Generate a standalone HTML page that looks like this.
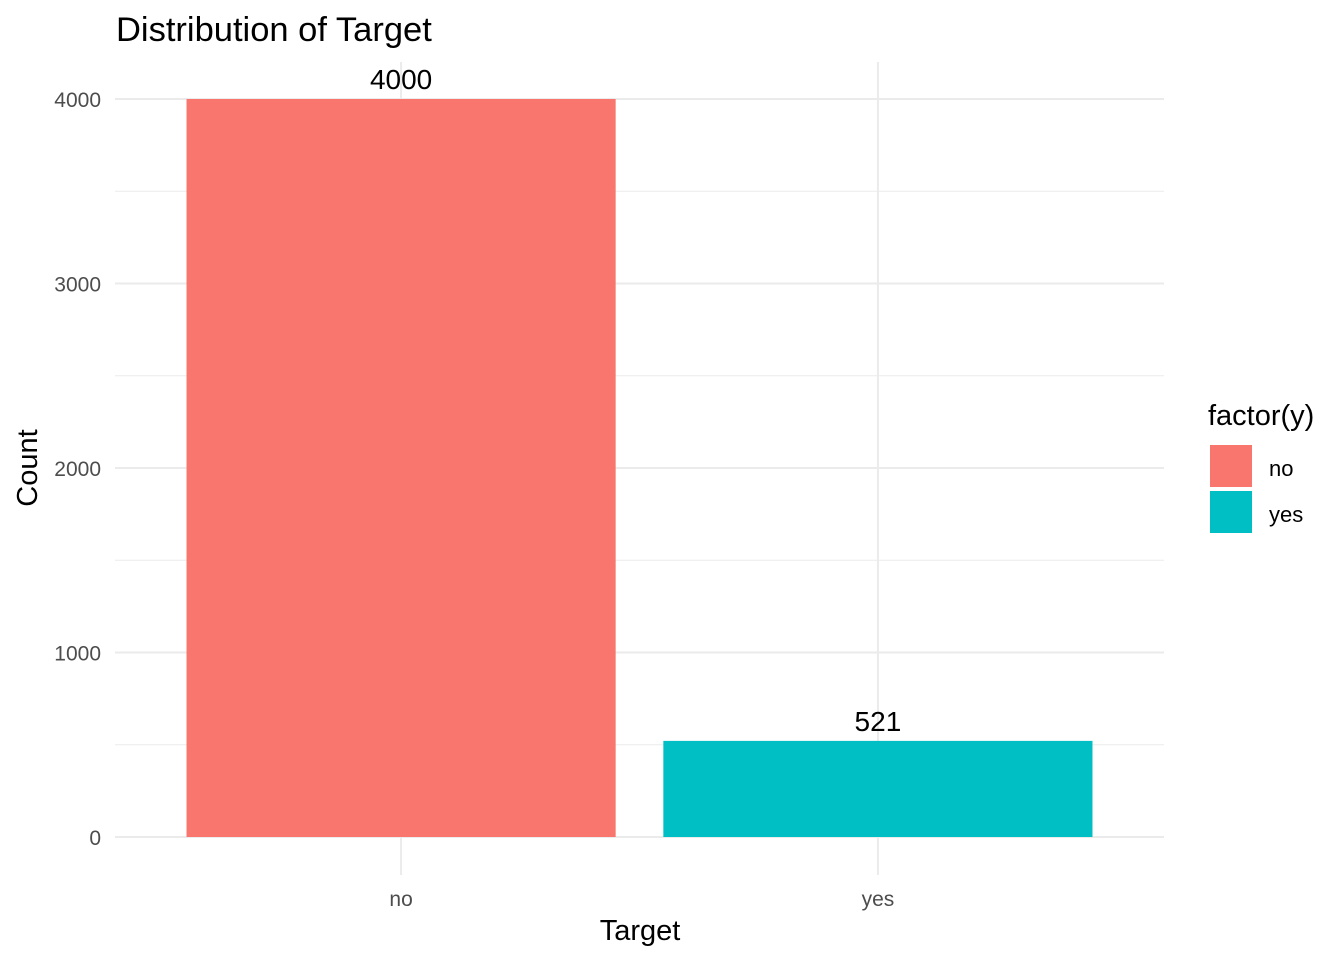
<!DOCTYPE html>
<html><head><meta charset="utf-8"><style>
body{margin:0;background:#fff;}
svg{display:block;font-family:"Liberation Sans",Arial,sans-serif;}
</style></head><body>
<svg id="chart" width="1344" height="960" viewBox="0 0 1344 960">
<text x="116" y="41" font-size="34.5" fill="#000">Distribution of Target</text>
<g id="grid"></g>
<g id="bars"></g>
<g id="labels"></g>
<text x="640" y="940" font-size="29" text-anchor="middle" fill="#000">Target</text>
<text transform="translate(37,468) rotate(-90)" font-size="29" text-anchor="middle" fill="#000">Count</text>
<g>
<text x="1208" y="425" font-size="29" fill="#000">factor(y)</text>
<rect x="1210" y="445" width="42" height="42" fill="#F8766D"/>
<text x="1269" y="476" font-size="22" fill="#000">no</text>
<rect x="1210" y="491" width="42" height="42" fill="#00BFC4"/>
<text x="1269" y="522" font-size="22" fill="#000">yes</text>
</g>
</svg>
<script>
const categories = ["no", "yes"];
const counts = [4000, 521];
const colors = ["#F8766D", "#00BFC4"];
const yTicks = [0, 1000, 2000, 3000, 4000];
const NS = "http://www.w3.org/2000/svg";
const plotLeft = 115, plotRight = 1164, plotTop = 62, plotBottom = 875;
const y0 = 837, yPer = (837 - 99) / 4000;
function yScale(v){ return y0 - v * yPer; }
const step = (plotRight - plotLeft) / (categories.length - 1 + 1.2);
function xScale(i){ return plotLeft + step * (0.6 + i); }
function mk(tag, attrs, parent){ const e = document.createElementNS(NS, tag); for (const k in attrs) e.setAttribute(k, attrs[k]); parent.appendChild(e); return e; }
const gridG = document.getElementById("grid");
const barsG = document.getElementById("bars");
const labelsG = document.getElementById("labels");
for (let i = 0; i < yTicks.length - 1; i++) {
  const v = (yTicks[i] + yTicks[i+1]) / 2;
  const l = mk("line", {x1:plotLeft, x2:plotRight, y1:yScale(v), y2:yScale(v), stroke:"#ebebeb", "stroke-width":1}, gridG);
  
  
}
yTicks.forEach(v => {
  const l = mk("line", {x1:plotLeft, x2:plotRight, y1:yScale(v), y2:yScale(v), stroke:"#ebebeb", "stroke-width":2}, gridG);
  
  
  const t = mk("text", {x:101, y:yScale(v)+8, "font-size":21, fill:"#4d4d4d", "text-anchor":"end"}, labelsG);
  t.textContent = v;
  
  
});
categories.forEach((c, i) => {
  const cx = xScale(i);
  const l = mk("line", {x1:cx, x2:cx, y1:plotTop, y2:plotBottom, stroke:"#ebebeb", "stroke-width":2}, gridG);
  
  
  const w = step * 0.9;
  const r = mk("rect", {x:cx - w/2, y:yScale(counts[i]), width:w, height:y0 - yScale(counts[i]), fill:colors[i]}, barsG);
  
  
  const vt = mk("text", {x:cx, y:yScale(counts[i]) - 10, "font-size":28, fill:"#000", "text-anchor":"middle"}, labelsG);
  vt.textContent = counts[i];
  
  
  const xt = mk("text", {x:cx, y:906, "font-size":21, fill:"#4d4d4d", "text-anchor":"middle"}, labelsG);
  xt.textContent = c;
  
  
});
</script>
</body></html>
